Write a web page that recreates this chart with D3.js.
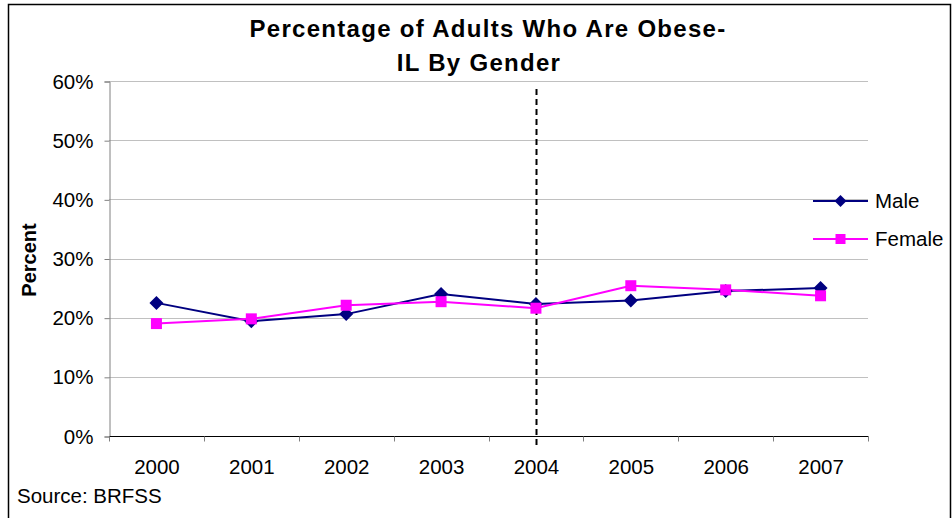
<!DOCTYPE html>
<html>
<head>
<meta charset="utf-8">
<script src="https://cdn.jsdelivr.net/npm/d3@7"></script>
<style>
  html, body { margin: 0; padding: 0; background: #fff; }
  svg { display: block; font-family: Arial, "Liberation Sans", sans-serif; }
</style>
</head>
<body>
<svg id="chart" width="952" height="518"></svg>
<script>
// Obesity rates in Illinois by gender, BRFSS 2000-2007
const years = ["2000", "2001", "2002", "2003", "2004", "2005", "2006", "2007"];
const maleValues = [22.5, 19.4, 20.6, 24.0, 22.3, 22.9, 24.5, 25.0];
const femaleValues = [19.0, 19.8, 22.1, 22.7, 21.6, 25.4, 24.7, 23.7];
const yTicks = [0, 10, 20, 30, 40, 50, 60];
const markerYear = "2004";

const svg = d3.select("#chart");
const W = 952, H = 518;
const plot = { left: 109, right: 868, top: 81, bottom: 436 };
const labelSize = 20.5;

// chart frame
svg.append("rect")
  .attr("x", 8.5).attr("y", 4.5)
  .attr("width", W - 10).attr("height", H)
  .attr("fill", "#fff").attr("stroke", "#000").attr("stroke-width", 1.5);

const x = d3.scaleBand().domain(years).range([plot.left, plot.right]);
const y = d3.scaleLinear().domain([0, 60]).range([plot.bottom, plot.top]);

// horizontal gridlines
svg.append("g")
  .selectAll("line")
  .data(yTicks.filter(d => d > 0))
  .join("line")
  .attr("x1", plot.left).attr("x2", plot.right)
  .attr("y1", d => Math.round(y(d)) + 0.5).attr("y2", d => Math.round(y(d)) + 0.5)
  .attr("stroke", "#c0c0c0").attr("stroke-width", 1);

// y axis
const yAxis = svg.append("g")
  .attr("transform", `translate(${plot.left + 0.5},0.5)`)
  .call(d3.axisLeft(y).tickValues(yTicks).tickFormat(d => d + "%").tickSize(5).tickPadding(11));
yAxis.select(".domain").attr("stroke", "#808080");
yAxis.selectAll(".tick line").attr("stroke", "#808080");
yAxis.selectAll("text").attr("font-size", labelSize).attr("fill", "#000")
  .attr("font-family", "Arial, 'Liberation Sans', sans-serif");

// x axis with ticks between categories
const xAxis = svg.append("g")
  .attr("transform", `translate(0.5,${plot.bottom + 0.5})`);
xAxis.append("line")
  .attr("x1", plot.left).attr("x2", plot.right)
  .attr("stroke", "#000");
const boundaries = years.map(d => x(d)).concat([plot.right]);
xAxis.selectAll("line.tk")
  .data(boundaries)
  .join("line").attr("class", "tk")
  .attr("x1", d => Math.round(d)).attr("x2", d => Math.round(d))
  .attr("y1", 0).attr("y2", 5)
  .attr("stroke", "#808080");
xAxis.selectAll("text")
  .data(years)
  .join("text")
  .attr("x", d => x(d) + x.bandwidth() / 2)
  .attr("y", 37)
  .attr("text-anchor", "middle")
  .attr("font-size", labelSize)
  .text(d => d);

// dashed reference line
const mx = Math.round(x(markerYear) + x.bandwidth() / 2) + 0.5;
svg.append("line")
  .attr("x1", mx).attr("x2", mx)
  .attr("y1", 89).attr("y2", 447)
  .attr("stroke", "#000").attr("stroke-width", 2)
  .attr("stroke-dasharray", "6,4");

const cx = d => x(d) + x.bandwidth() / 2;
const line = d3.line().x(d => cx(d.year)).y(d => y(d.v));
const male = years.map((yr, i) => ({ year: yr, v: maleValues[i] }));
const female = years.map((yr, i) => ({ year: yr, v: femaleValues[i] }));

const maleColor = "#000080", femaleColor = "#ff00ff";

svg.append("path").datum(male)
  .attr("d", line).attr("fill", "none")
  .attr("stroke", maleColor).attr("stroke-width", 2);
svg.append("path").datum(female)
  .attr("d", line).attr("fill", "none")
  .attr("stroke", femaleColor).attr("stroke-width", 2);

const diamond = "M0,-7L7,0L0,7L-7,0Z";
svg.append("g").selectAll("path")
  .data(male).join("path")
  .attr("d", diamond)
  .attr("transform", d => `translate(${cx(d.year)},${y(d.v)})`)
  .attr("fill", maleColor);

svg.append("g").selectAll("rect")
  .data(female).join("rect")
  .attr("x", d => cx(d.year) - 5.5).attr("y", d => y(d.v) - 5.5)
  .attr("width", 11).attr("height", 11)
  .attr("fill", femaleColor);

// title
const title = svg.append("text")
  .attr("text-anchor", "middle")
  .attr("font-size", 24).attr("font-weight", "bold")
  .attr("letter-spacing", 1.3);
title.append("tspan").attr("x", 488).attr("y", 37).text("Percentage of Adults Who Are Obese-");
title.append("tspan").attr("x", 479).attr("y", 71).text("IL By Gender");

// y axis title
svg.append("text")
  .attr("transform", "translate(36,260) rotate(-90)")
  .attr("text-anchor", "middle")
  .attr("font-size", 20).attr("font-weight", "bold")
  .text("Percent");

// legend
const legend = [
  { name: "Male", color: maleColor, shape: "diamond", y: 201 },
  { name: "Female", color: femaleColor, shape: "square", y: 239 }
];
const lg = svg.append("g").selectAll("g").data(legend).join("g")
  .attr("transform", d => `translate(813,${d.y})`);
lg.append("line").attr("x1", 0).attr("x2", 55)
  .attr("stroke", d => d.color).attr("stroke-width", 2);
lg.filter(d => d.shape === "diamond").append("path")
  .attr("d", "M0,-6L6,0L0,6L-6,0Z")
  .attr("transform", "translate(27.5,0)")
  .attr("fill", d => d.color);
lg.filter(d => d.shape === "square").append("rect")
  .attr("x", 22.5).attr("y", -5).attr("width", 10).attr("height", 10)
  .attr("fill", d => d.color);
lg.append("text").attr("x", 62).attr("y", 7)
  .attr("font-size", labelSize).text(d => d.name);

// source note
svg.append("text")
  .attr("x", 17).attr("y", 503)
  .attr("font-size", labelSize)
  .text("Source: BRFSS");
</script>
</body>
</html>
